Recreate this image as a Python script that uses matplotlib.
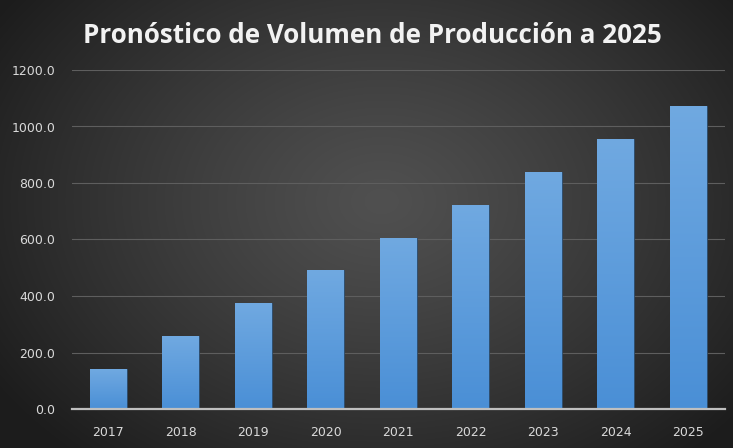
import numpy as np
import matplotlib
matplotlib.use("Agg")
import matplotlib.pyplot as plt
from matplotlib.colors import LinearSegmentedColormap

years = ["2017", "2018", "2019", "2020", "2021", "2022", "2023", "2024", "2025"]
volumen = [140.0, 257.0, 374.0, 491.0, 605.0, 722.0, 840.0, 957.0, 1073.0]
y_ticks = [0, 200, 400, 600, 800, 1000, 1200]
title = "Pronóstico de Volumen de Producción a 2025"

W, H, DPI = 733, 448, 100
fig = plt.figure(figsize=(W / DPI, H / DPI), dpi=DPI)

# radial dark-gray background
bg = fig.add_axes([0, 0, 1, 1], zorder=-10)
yy, xx = np.mgrid[0:H, 0:W]
cx, cy = W * 0.52, H * 0.45
r = np.sqrt(((xx - cx) / (W * 0.62)) ** 2 + ((yy - cy) / (H * 0.75)) ** 2)
r = np.clip(r, 0, 1)
inner, outer = 0x50 / 255, 0x1d / 255
val = inner + (outer - inner) * r ** 1.2
bg.imshow(np.dstack([val, val, val]), extent=[0, 1, 0, 1], aspect="auto", origin="upper")
bg.axis("off")

left, right = 72 / W, 724.5 / W
bottom, top = (H - 409) / H, (H - 70) / H
ax = fig.add_axes([left, bottom, right - left, top - bottom])
ax.set_facecolor("none")

x = np.arange(len(years))
bars = ax.bar(x, volumen, width=0.51, color="#5b9bd5", zorder=3,
              edgecolor="#2b4a6a", linewidth=0.6)

# vertical blue gradient inside each bar
cmap = LinearSegmentedColormap.from_list("barfill", ["#4a8fd6", "#70a9e1"])
grad = np.linspace(0, 1, 256).reshape(-1, 1)
for b in bars:
    x0, w, h = b.get_x(), b.get_width(), b.get_height()
    im = ax.imshow(grad, cmap=cmap, origin="lower", aspect="auto",
                   extent=[x0, x0 + w, 0, h], zorder=4)
    im.set_clip_path(b)

ax.set_xlim(-0.5, len(years) - 0.5)
ax.set_ylim(0, 1200)
ax.set_yticks(y_ticks)
ax.set_yticklabels([f"{v:.1f}" for v in y_ticks])
ax.set_xticks(x)
ax.set_xticklabels(years)

ax.grid(axis="y", color="#5e5e5e", linewidth=0.8, zorder=1)
ax.set_axisbelow(True)
for s in ["top", "right", "left"]:
    ax.spines[s].set_visible(False)
ax.spines["bottom"].set_color("#bfbfbf")
ax.spines["bottom"].set_linewidth(1.6)
ax.spines["bottom"].set_zorder(5)
ax.tick_params(axis="both", length=0, colors="#d9d9d9", labelsize=9)
ax.tick_params(axis="y", pad=12)
ax.tick_params(axis="x", pad=12)

fig.text(0.508, 0.92, title, ha="center", va="center", color="#f2f2f2",
         fontsize=18.7, fontweight="bold", family="Open Sans")

fig.savefig("out.png", dpi=DPI)
